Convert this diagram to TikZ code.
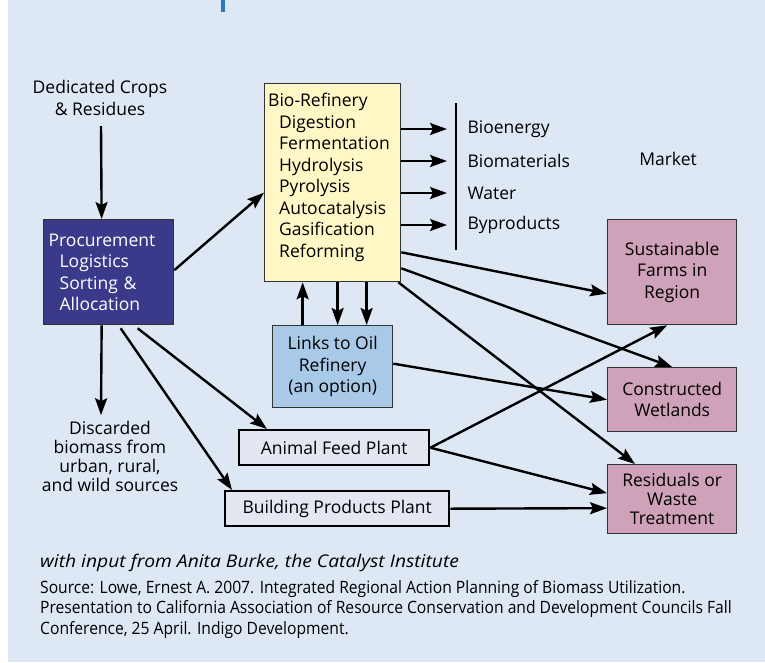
\documentclass[tikz,border=0pt]{standalone}
\usepackage{fontspec}
\setmainfont{Open Sans}
\newfontfamily\condfont[FakeStretch=0.92]{Open Sans}
\newfontfamily\widefont[FakeStretch=1.1]{Open Sans}
\usetikzlibrary{arrows.meta}

\definecolor{bgblue}{HTML}{DDE8F4}
\definecolor{titleblue}{HTML}{2B7BB9}
\definecolor{procblue}{HTML}{3B3A8A}
\definecolor{bioyellow}{HTML}{FFF8C6}
\definecolor{linkblue}{HTML}{A9C9E8}
\definecolor{sinkpink}{HTML}{CFA2BA}
\definecolor{plantgrey}{HTML}{E2E7F1}

\newcommand{\dgm}{\fontsize{17.5}{21.5}\selectfont}
\newcommand{\dgmtight}{\fontsize{17.5}{19}\selectfont}

\tikzset{
  box/.style = {draw=black!80, line width=1.3pt, inner sep=0pt,
                anchor=north west},
  sink/.style = {box, fill=sinkpink, align=center, font=\dgm},
  plant/.style = {box, draw=black, line width=2.4pt, fill=plantgrey,
                  font=\dgm},
  arr/.style = {-{Stealth[length=17pt,width=12pt,inset=3pt]},
                line width=2.4pt}
}

\begin{document}
\begin{tikzpicture}[x=1pt,y=-1pt]
	% Background
	\fill[bgblue] (0,0) rectangle (765,662);
	\fill[white] (0,0) rectangle (8,662);
	\fill[titleblue] (221,0) rectangle (225,12);

	% Inputs
	\node[font=\dgm, align=center] (crops) at (100,98) {Dedicated Crops\\\& Residues};
	\node[box, fill=procblue, minimum width=130pt, minimum height=105pt,
	      inner xsep=5pt, text width=120pt, text=white, align=left, font=\dgm] (proc) at (43,219)
	      {Procurement\\\hspace*{11pt}Logistics\\\hspace*{11pt}Sorting \&\\\hspace*{11pt}Allocation};
	\node[font=\dgmtight, align=center] (disc) at (110,456)
	      {Discarded\\biomass from\\urban, rural,\\and wild sources};

	% Bio-Refinery
	\node[box, fill=bioyellow, minimum width=136pt, minimum height=198pt] (bio) at (264,83) {};
	\node[anchor=north west, inner sep=0pt, align=left, font=\dgm] (biotext)
	      at ([xshift=4pt,yshift=-10pt]bio.north west)
	      {Bio-Refinery\\\hspace*{11pt}Digestion\\\hspace*{11pt}Fermentation\\\hspace*{11pt}Hydrolysis\\
	       \hspace*{11pt}Pyrolysis\\\hspace*{11pt}Autocatalysis\\\hspace*{11pt}Gasification\\\hspace*{11pt}Reforming};
	\node[box, fill=linkblue, minimum width=120pt, minimum height=82pt,
	      align=center, font=\dgm] (links) at (272,325)
	      {Links to Oil\\Refinery\\(an option)};

	% Plants
	\node[plant, minimum width=190pt, minimum height=35pt] (animal) at (238,429) {Animal Feed Plant};
	\node[plant, minimum width=224pt, minimum height=35pt] (building) at (224,490) {Building Products Plant};

	% Sinks
	\node[sink, minimum width=129pt, minimum height=105pt] (sust) at (607,219) {Sustainable\\Farms in\\Region};
	\node[sink, minimum width=129pt, minimum height=64pt] (wet) at (607,367) {Constructed\\Wetlands};
	\node[sink, minimum width=129pt, minimum height=69pt, font=\dgmtight] (resid) at (607,464) {Residuals or\\Waste\\Treatment};

	% Market
	\draw[line width=2.5pt] (456,103) -- (456,250);
	\node[font=\dgm] (market) at (668,159) {Market};
	\foreach \yy/\lab [count=\i] in {129/Bioenergy,161/Biomaterials,193/Water,225/Byproducts} {
		\coordinate (out\i) at (447,\yy);
		\node[anchor=west, font=\dgm] (prod\i) at (464,\yy) {\lab};
		\draw[arr] (out\i -| bio.east) -- (out\i);
	}

	% Flows
	\draw[arr] ([xshift=1pt,yshift=-7pt]crops.south) -- ([xshift=-7pt]proc.north);
	\draw[arr] ([yshift=2pt]proc.east) -- ([yshift=-10pt]bio.west);
	\draw[arr] ([xshift=-7pt]proc.south) -- ([xshift=-9pt,yshift=2pt]disc.north);
	\draw[arr] ([xshift=29pt,yshift=-3pt]proc.south) -- ([xshift=29pt]animal.north west);
	\draw[arr] ([xshift=12pt,yshift=-3pt]proc.south) -- ([xshift=8pt]building.north west);

	\draw[arr] ([xshift=-30pt]links.north) -- ([xshift=-30pt]bio.south);
	\draw[arr] ([xshift=5pt]bio.south) -- ([xshift=5pt]links.north);
	\draw[arr] ([xshift=34pt]bio.south) -- ([xshift=34pt]links.north);

	\draw[arr] ([yshift=30pt]bio.south east) -- ([yshift=-21.5pt]sust.west);
	\draw[arr] ([yshift=14pt]bio.south east) -- (wet.north);
	\draw[arr] ([xshift=-3pt]bio.south east) -- ([xshift=28pt]resid.north west);
	\draw[arr] ([yshift=3pt]links.east) -- (wet.west);

	\draw[arr] (animal.east) -- ([xshift=-5pt]sust.south);
	\draw[arr] (animal.east) -- ([yshift=6pt]resid.west);
	\draw[arr] (building.east) -- ([yshift=-9pt]resid.west);

	% Credits
	\node[anchor=west, inner sep=0pt, font=\widefont\fontsize{17.5}{21}\selectfont\itshape] (credit) at (40,563)
	      {with input from Anita Burke, the Catalyst Institute};
	\node[anchor=north west, inner sep=0pt, align=left, font=\condfont\fontsize{17}{20.5}\selectfont]
	      (source) at (40,580)
	      {Source: Lowe, Ernest A. 2007. Integrated Regional Action Planning of Biomass Utilization.\\
	       Presentation to California Association of Resource Conservation and Development Councils Fall\\
	       Conference, 25 April. Indigo Development.};
\end{tikzpicture}
\end{document}
